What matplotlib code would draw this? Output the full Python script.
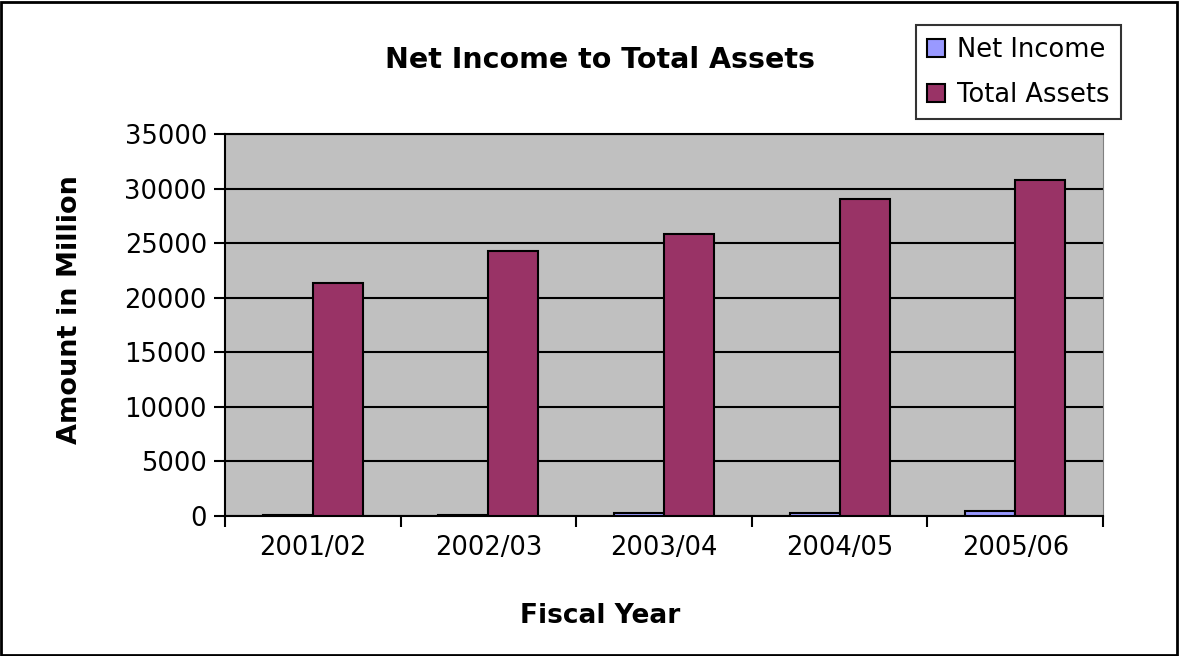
import matplotlib.pyplot as plt
import numpy as np
from matplotlib.patches import Rectangle

years = ["2001/02", "2002/03", "2003/04", "2004/05", "2005/06"]
net_income = [120, 130, 300, 310, 480]
total_assets = [21350, 24250, 25800, 29050, 30750]

plt.rcParams['font.family'] = ['DejaVu Sans']

fig = plt.figure(figsize=(11.79, 6.56), dpi=100)
ax = fig.add_axes([225 / 1179, 1 - 516 / 656, 878 / 1179, 382 / 656])
ax.set_facecolor("#C0C0C0")

x = np.arange(len(years))
w = 0.285
ax.bar(x - w / 2, net_income, w, color="#9999FF", edgecolor="black", linewidth=1.5,
       label="Net Income", zorder=3)
ax.bar(x + w / 2, total_assets, w, color="#993366", edgecolor="black", linewidth=1.5,
       label="Total Assets", zorder=3)

ax.set_xlim(-0.5, len(years) - 0.5)
ax.set_ylim(0, 35000)
ax.set_yticks(np.arange(0, 35001, 5000))
ax.yaxis.grid(True, color="black", linewidth=1.5, zorder=1)
ax.set_axisbelow(True)

# category labels centred, tick marks on the boundaries
ax.set_xticks(x)
ax.set_xticklabels(years)
ax.tick_params(axis="x", which="major", length=0, labelsize=18.5, pad=14)
ax.set_xticks(np.arange(-0.5, len(years)), minor=True)
ax.tick_params(axis="x", which="minor", length=8, width=1.5, direction="out")
ax.tick_params(axis="y", length=8, width=1.5, direction="out", labelsize=18.5, pad=5)

for s in ["left", "bottom", "top"]:
    ax.spines[s].set_color("black")
    ax.spines[s].set_linewidth(1.5)
ax.spines["right"].set_color("#808080")

ax.set_ylabel("Amount in Million", fontsize=19.5, fontweight="bold", labelpad=30)
ax.set_xlabel("Fiscal Year", fontsize=19, fontweight="bold", labelpad=30)
ax.yaxis.label.set_y(0.54)
ax.xaxis.label.set_x(0.427)
fig.text(600 / 1179, 1 - 60 / 656, "Net Income to Total Assets", fontsize=20.5,
         fontweight="bold", ha="center", va="center")

leg = ax.legend(loc="upper right", bbox_to_anchor=(1121 / 1179, 1 - 25 / 656),
                bbox_transform=fig.transFigure, fontsize=18.5, frameon=True,
                fancybox=False, handlelength=0.7, handleheight=0.7,
                handletextpad=0.45, borderpad=0.45, labelspacing=0.75,
                borderaxespad=0)
leg.get_frame().set_edgecolor("black")
leg.get_frame().set_linewidth(1.5)

# outer chart border
fig.patches.append(Rectangle((1 / 1179, 1 / 656), 1176 / 1179, 653 / 656,
                             transform=fig.transFigure, fill=False,
                             edgecolor="black", linewidth=2))

fig.savefig("out.png", dpi=100)
